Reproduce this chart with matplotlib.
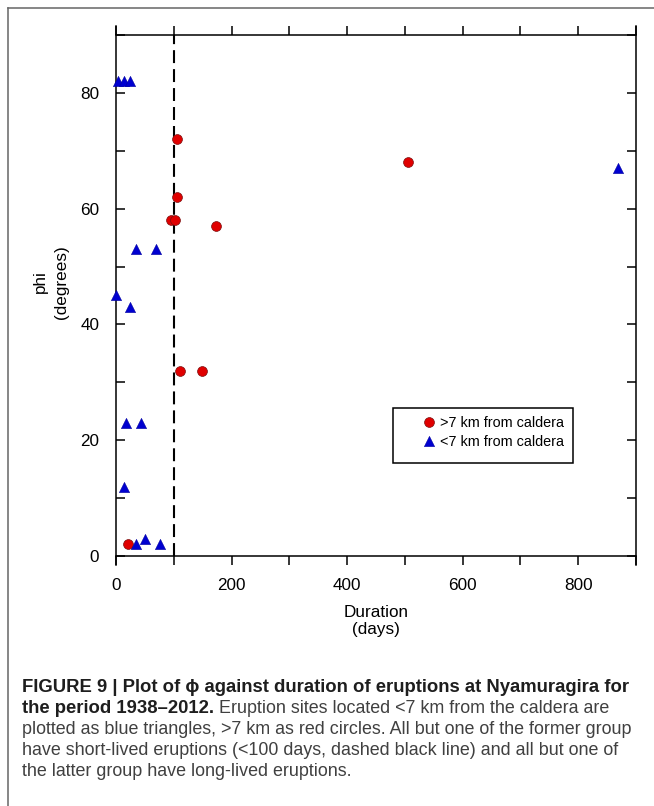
import matplotlib
matplotlib.use("Agg")
import matplotlib.pyplot as plt
from matplotlib.lines import Line2D
from matplotlib.patches import Rectangle

# ── Data ──────────────────────────────────────────────────────────────────────
far_dur = [105, 106, 95, 102, 173, 110, 149, 20, 505]      # >7 km, red circles
far_phi = [72, 62, 58, 58, 57, 32, 32, 2, 68]
near_dur = [4, 14, 24, 35, 69, 0, 24, 18, 44, 13, 35, 51, 77, 868]  # <7 km
near_phi = [82, 82, 82, 53, 53, 45, 43, 23, 23, 12, 2, 3, 2, 67]
threshold_days = 100

x_major = [0, 200, 400, 600, 800]
x_minor = [100, 300, 500, 700, 900]
y_major = [0, 20, 40, 60, 80]
y_minor = [10, 30, 50, 70, 90]

caption_bold = ["FIGURE 9 | Plot of \u03d5 against duration of eruptions at Nyamuragira for",
                "the period 1938\u20132012."]
caption_rest = [" Eruption sites located <7 km from the caldera are",
                "plotted as blue triangles, >7 km as red circles. All but one of the former group",
                "have short-lived eruptions (<100 days, dashed black line) and all but one of",
                "the latter group have long-lived eruptions."]

W, H = 654, 806
FONT = ["Liberation Sans", "DejaVu Sans"]
plt.rcParams["font.family"] = FONT

fig = plt.figure(figsize=(W / 100, H / 100), dpi=100)
ax = fig.add_axes([116 / W, 1 - 556 / H, 520 / W, 521 / H])

ax.scatter(far_dur, far_phi, s=50, marker="o", c="#e00000",
           edgecolors="#7a1010", linewidths=0.5, zorder=3, clip_on=False,
           label=">7 km from caldera")
ax.scatter(near_dur, near_phi, s=54, marker="^", c="#0000d0",
           edgecolors="#0000a0", linewidths=0.4, zorder=3, clip_on=False,
           label="<7 km from caldera")
ax.axvline(threshold_days, color="black", lw=1.5, ls=(0, (6.2, 2.9)), zorder=2)

ax.set_xlim(0, 900)
ax.set_ylim(0, 90)
ax.set_xticks(x_major)
ax.set_xticks(x_minor, minor=True)
ax.set_yticks(y_major)
ax.set_yticks(y_minor, minor=True)
for sp in ax.spines.values():
    sp.set_linewidth(1.1)
ax.spines["left"].set_bounds(-1.6, 91.6)
ax.spines["right"].set_bounds(-1.6, 91.6)

ax.tick_params(axis="x", which="both", direction="out", length=6.5, width=1.1,
               top=True, bottom=True, labelsize=12.3, pad=9)
ax.tick_params(axis="y", which="both", direction="in", length=6.5, width=1.1,
               left=True, right=True, labelsize=12.3, pad=12)
ax.tick_params(which="minor", labelbottom=False, labelleft=False)

ax.set_xlabel("Duration\n(days)", fontsize=12.3, linespacing=1.15)
ax.xaxis.set_label_coords(0.5, -0.125)
ax.xaxis.label.set_va("center")
ax.set_ylabel("phi\n(degrees)", fontsize=12.3, linespacing=1.5)
ax.yaxis.set_label_coords(-0.125, 0.526)
ax.yaxis.label.set_va("center")

# legend: frameless handles plus a square black box
leg = ax.legend(loc="upper left", bbox_to_anchor=(0.592, 0.268), frameon=False,
                fontsize=10.4, handlelength=0.7, handletextpad=0.45,
                labelspacing=0.35, borderpad=0, borderaxespad=0,
                scatteryoffsets=[0.5])
ax.add_patch(Rectangle((0.533, 0.1785), 0.346, 0.1055, transform=ax.transAxes,
                       fill=False, ec="black", lw=1.1, zorder=4))

# figure frame (left and top only)
fig.add_artist(Line2D([8 / W, 8 / W], [0, 1 - 8 / H], color="#666666", lw=1.1))
fig.add_artist(Line2D([8 / W, 1], [1 - 8 / H, 1 - 8 / H], color="#666666", lw=1.1))

# caption: bold and regular sizes fitted to the reference line widths
renderer = fig.canvas.get_renderer()
x0 = 22 / W
line_w = 610


def fitted_size(text, weight):
    probe = fig.text(x0, 0.5, text, fontsize=10, fontweight=weight)
    w = probe.get_window_extent(renderer).width
    probe.remove()
    return 10 * line_w / w


fs_b = fitted_size(caption_bold[0], "bold")
fs_r = fitted_size(caption_rest[1], "normal")
baselines = [691.7, 712.6, 733.9, 755.1, 776.3]
bold_col, reg_col = "#1e1e1e", "#404040"

fig.text(x0, 1 - baselines[0] / H, caption_bold[0], fontsize=fs_b,
         fontweight="bold", color=bold_col, va="baseline")
t2 = fig.text(x0, 1 - baselines[1] / H, caption_bold[1], fontsize=fs_b,
              fontweight="bold", color=bold_col, va="baseline")
x_end = t2.get_window_extent(renderer).x1 / W
fig.text(x_end, 1 - baselines[1] / H, caption_rest[0], fontsize=fs_r,
         color=reg_col, va="baseline")
for line, b in zip(caption_rest[1:], baselines[2:]):
    fig.text(x0, 1 - b / H, line, fontsize=fs_r, color=reg_col, va="baseline")

fig.savefig("out.png", dpi=100)
